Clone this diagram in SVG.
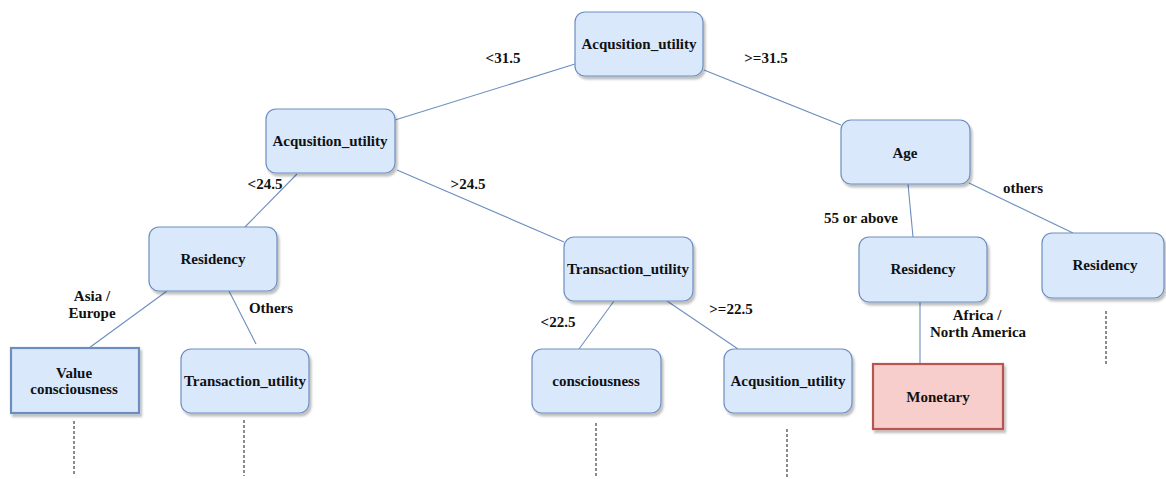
<svg xmlns="http://www.w3.org/2000/svg" width="1166" height="479" viewBox="0 0 1166 479">
<style>
.n{fill:#dae8fc;stroke:#6c8ebf;stroke-width:1.2;filter:url(#sh)}
.sq{fill:#dae8fc;stroke:#6c8ebf;stroke-width:2.2;filter:url(#sh)}
.red{fill:#f8cecc;stroke:#b85450;stroke-width:2.2;filter:url(#sh)}
text{font-family:"Liberation Serif","Times New Roman",serif;font-weight:bold;font-size:15px;fill:#111;text-anchor:middle}
.e{stroke:#6c8ebf;stroke-width:1.1;fill:none}
.d{stroke:#666;stroke-width:1.5;stroke-dasharray:3 2;fill:none}
</style>
<defs>
<filter id="sh" x="-10%" y="-10%" width="125%" height="130%">
<feDropShadow dx="2" dy="3" stdDeviation="1" flood-color="#000" flood-opacity="0.25"/>
</filter>
</defs>
<rect width="1166" height="479" fill="#fff"/>
<g id="connectors">
<line class="e" x1="575" y1="64" x2="395" y2="120"/>
<line class="e" x1="704" y1="70" x2="841" y2="125"/>
<line class="e" x1="297" y1="174" x2="245" y2="227"/>
<line class="e" x1="397" y1="170" x2="564" y2="242"/>
<line class="e" x1="167" y1="291" x2="89" y2="348"/>
<line class="e" x1="229" y1="291" x2="256" y2="344"/>
<line class="e" x1="614" y1="301" x2="579" y2="349"/>
<line class="e" x1="667" y1="301" x2="738" y2="349"/>
<line class="e" x1="908" y1="184" x2="913" y2="237"/>
<line class="e" x1="969" y1="183" x2="1073" y2="233"/>
<line class="e" x1="920" y1="302" x2="920" y2="364"/>
<line class="d" x1="74" y1="421" x2="74" y2="476"/>
<line class="d" x1="244" y1="420" x2="244" y2="476"/>
<line class="d" x1="596" y1="423" x2="596" y2="478"/>
<line class="d" x1="787" y1="429" x2="787" y2="478"/>
<line class="d" x1="1106" y1="311" x2="1106" y2="365"/>
<text x="503" y="63">&lt;31.5</text>
<text x="766" y="63">&gt;=31.5</text>
<text x="265" y="189">&lt;24.5</text>
<text x="468" y="189">&gt;24.5</text>
<text x="92" y="301">Asia /</text>
<text x="92" y="318">Europe</text>
<text x="271" y="313">Others</text>
<text x="558" y="327">&lt;22.5</text>
<text x="731" y="314">&gt;=22.5</text>
<text x="861" y="223">55 or above</text>
<text x="1023" y="193">others</text>
<text x="977" y="320">Africa /</text>
<text x="978" y="337">North America</text>
</g>
<g id="root"><rect class="n" x="575" y="12" width="128" height="64" rx="10"/><text x="639" y="49">Acqusition_utility</text></g>
<g id="acq-left"><rect class="n" x="266" y="109" width="129" height="64" rx="10"/><text x="330" y="146">Acqusition_utility</text></g>
<g id="age"><rect class="n" x="841" y="120" width="129" height="64" rx="10"/><text x="905" y="158">Age</text></g>
<g id="res-left"><rect class="n" x="149" y="227" width="128" height="64" rx="10"/><text x="213" y="264">Residency</text></g>
<g id="trans-mid"><rect class="n" x="564" y="237" width="129" height="64" rx="10"/><text x="628" y="274">Transaction_utility</text></g>
<g id="res-mid"><rect class="n" x="859" y="237" width="128" height="65" rx="10"/><text x="923" y="274">Residency</text></g>
<g id="res-right"><rect class="n" x="1042" y="233" width="122" height="65" rx="10"/><text x="1105" y="270">Residency</text></g>
<g id="value"><rect class="sq" x="11" y="348" width="128" height="65"/><text x="74" y="378">Value</text><text x="74" y="394">consciousness</text></g>
<g id="trans-left"><rect class="n" x="181" y="349" width="128" height="64" rx="10"/><text x="245" y="386">Transaction_utility</text></g>
<g id="consc"><rect class="n" x="532" y="349" width="129" height="64" rx="10"/><text x="596" y="386">consciousness</text></g>
<g id="acq-bottom"><rect class="n" x="724" y="349" width="128" height="64" rx="10"/><text x="788" y="386">Acqusition_utility</text></g>
<g id="monetary"><rect class="red" x="873" y="364" width="130" height="65"/><text x="938" y="402">Monetary</text></g>
</svg>
